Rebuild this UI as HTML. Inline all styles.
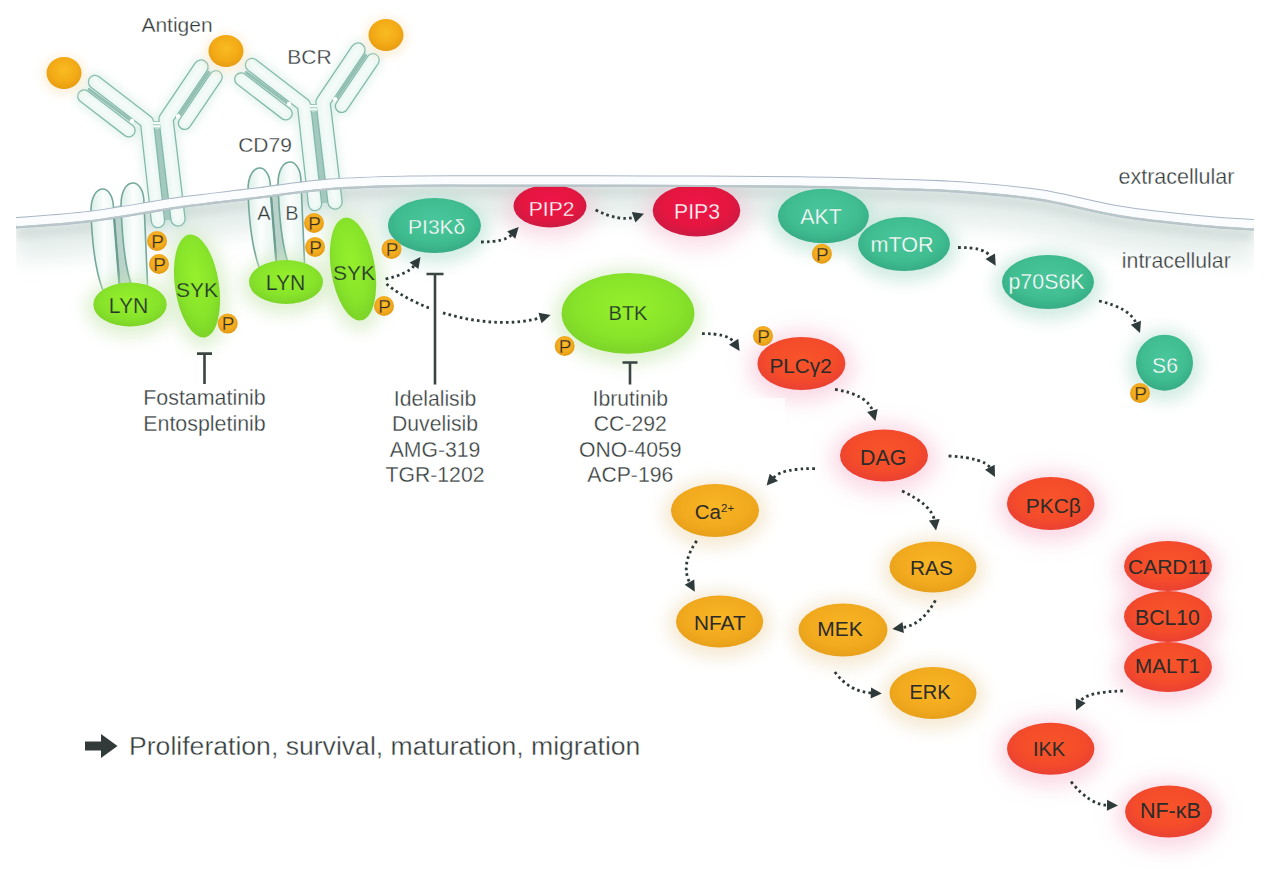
<!DOCTYPE html><html><head><meta charset="utf-8"><style>html,body{margin:0;padding:0;background:#fff;overflow:hidden}svg{display:block}text{font-family:"Liberation Sans", sans-serif}</style></head><body>
<svg width="1280" height="869" viewBox="0 0 1280 869">
<defs>
<radialGradient id="g_green" cx="50%" cy="42%" r="58%"><stop offset="0" stop-color="#96f02c"/><stop offset="0.65" stop-color="#88e42a"/><stop offset="1" stop-color="#7cd428"/></radialGradient>
<radialGradient id="g_teal" cx="50%" cy="42%" r="58%"><stop offset="0" stop-color="#4ac69c"/><stop offset="0.65" stop-color="#40be91"/><stop offset="1" stop-color="#37ac85"/></radialGradient>
<radialGradient id="g_pip" cx="50%" cy="42%" r="58%"><stop offset="0" stop-color="#f0144a"/><stop offset="0.65" stop-color="#e4163f"/><stop offset="1" stop-color="#cc1a44"/></radialGradient>
<radialGradient id="g_red" cx="50%" cy="42%" r="58%"><stop offset="0" stop-color="#f8542a"/><stop offset="0.65" stop-color="#f44c2a"/><stop offset="1" stop-color="#ea4034"/></radialGradient>
<radialGradient id="g_orange" cx="50%" cy="42%" r="58%"><stop offset="0" stop-color="#f8b624"/><stop offset="0.65" stop-color="#f2aa1e"/><stop offset="1" stop-color="#e8a01a"/></radialGradient>
<radialGradient id="g_p" cx="50%" cy="42%" r="58%"><stop offset="0" stop-color="#fac02a"/><stop offset="0.65" stop-color="#f2ab1e"/><stop offset="1" stop-color="#e29814"/></radialGradient>
<radialGradient id="g_ball" cx="50%" cy="42%" r="58%"><stop offset="0" stop-color="#f9bb22"/><stop offset="0.65" stop-color="#f3aa16"/><stop offset="1" stop-color="#e69c10"/></radialGradient>
<filter id="blur2" x="-100%" y="-100%" width="300%" height="300%"><feGaussianBlur stdDeviation="2"/></filter>
<filter id="blur4" x="-100%" y="-100%" width="300%" height="300%"><feGaussianBlur stdDeviation="4"/></filter>
<filter id="blur6" x="-100%" y="-100%" width="300%" height="300%"><feGaussianBlur stdDeviation="6"/></filter>
<filter id="blur8" x="-100%" y="-100%" width="300%" height="300%"><feGaussianBlur stdDeviation="8"/></filter>
<filter id="blur10" x="-100%" y="-100%" width="300%" height="300%"><feGaussianBlur stdDeviation="10"/></filter>
<filter id="blur12" x="-100%" y="-100%" width="300%" height="300%"><feGaussianBlur stdDeviation="12"/></filter>
<filter id="blur16" x="-100%" y="-100%" width="300%" height="300%"><feGaussianBlur stdDeviation="16"/></filter>
<clipPath id="below"><path d="M16.0,226.8 C28.3,225.8 62.7,223.9 90.0,220.5 C117.3,217.1 153.3,210.2 180.0,206.5 C206.7,202.8 225.0,201.0 250.0,198.0 C275.0,195.0 303.3,190.4 330.0,188.3 C356.7,186.2 381.7,185.8 410.0,185.2 C438.3,184.6 460.0,185.0 500.0,185.0 C540.0,185.0 600.0,184.9 650.0,185.1 C700.0,185.3 758.3,185.4 800.0,186.0 C841.7,186.6 873.3,187.7 900.0,188.5 C926.7,189.3 936.7,189.2 960.0,191.0 C983.3,192.8 1013.3,194.9 1040.0,199.0 C1066.7,203.1 1093.3,211.2 1120.0,215.5 C1146.7,219.8 1177.7,222.8 1200.0,225.0 C1222.3,227.2 1245.0,228.2 1254.0,228.8 L1254,869 L16,869 Z"/></clipPath>
<radialGradient id="capg" cx="50%" cy="50%" r="50%"><stop offset="0" stop-color="#ffffff"/><stop offset="0.7" stop-color="#f0faf6"/><stop offset="1" stop-color="#d8efe8"/></radialGradient>
<linearGradient id="capg2" x1="0" x2="1" y1="0" y2="0"><stop offset="0" stop-color="#dcefe9"/><stop offset="0.45" stop-color="#fbfefd"/><stop offset="1" stop-color="#e4f3ee"/></linearGradient>
<filter id="soft" x="-10%" y="-10%" width="120%" height="120%"><feGaussianBlur stdDeviation="0.6"/></filter>
</defs>
<g clip-path="url(#below)">
<path d="M16.0,222.8 C28.3,221.8 62.7,219.9 90.0,216.5 C117.3,213.1 153.3,206.2 180.0,202.5 C206.7,198.8 225.0,197.0 250.0,194.0 C275.0,191.0 303.3,186.4 330.0,184.3 C356.7,182.2 381.7,181.8 410.0,181.2 C438.3,180.6 460.0,181.0 500.0,181.0 C540.0,181.0 600.0,180.9 650.0,181.1 C700.0,181.3 758.3,181.4 800.0,182.0 C841.7,182.6 873.3,183.7 900.0,184.5 C926.7,185.3 936.7,185.2 960.0,187.0 C983.3,188.8 1013.3,190.9 1040.0,195.0 C1066.7,199.1 1093.3,207.2 1120.0,211.5 C1146.7,215.8 1177.7,218.8 1200.0,221.0 C1222.3,223.2 1245.0,224.2 1254.0,224.8" fill="none" stroke="#e6efed" stroke-width="36" filter="url(#blur10)" transform="translate(0,20)"/>
<path d="M16.0,222.8 C28.3,221.8 62.7,219.9 90.0,216.5 C117.3,213.1 153.3,206.2 180.0,202.5 C206.7,198.8 225.0,197.0 250.0,194.0 C275.0,191.0 303.3,186.4 330.0,184.3 C356.7,182.2 381.7,181.8 410.0,181.2 C438.3,180.6 460.0,181.0 500.0,181.0 C540.0,181.0 600.0,180.9 650.0,181.1 C700.0,181.3 758.3,181.4 800.0,182.0 C841.7,182.6 873.3,183.7 900.0,184.5 C926.7,185.3 936.7,185.2 960.0,187.0 C983.3,188.8 1013.3,190.9 1040.0,195.0 C1066.7,199.1 1093.3,207.2 1120.0,211.5 C1146.7,215.8 1177.7,218.8 1200.0,221.0 C1222.3,223.2 1245.0,224.2 1254.0,224.8" fill="none" stroke="#d3dedb" stroke-width="12" filter="url(#blur4)" transform="translate(0,10)"/>
</g>
<g transform="translate(-157.0,17.0)" filter="url(#soft)">
<g opacity="0.3" filter="url(#blur4)">
<path d="M252.0,65.0 L304.0,105.0 L315.0,204.0" fill="none" stroke="#a8d8c8" stroke-width="20" stroke-linecap="round" stroke-linejoin="round"/>
<path d="M358.0,50.0 L323.0,102.0 L335.0,202.0" fill="none" stroke="#a8d8c8" stroke-width="20" stroke-linecap="round" stroke-linejoin="round"/>
<path d="M241.1,79.3 L285.8,113.6" fill="none" stroke="#a8d8c8" stroke-width="20" stroke-linecap="round" stroke-linejoin="round"/>
<path d="M372.9,60.0 L341.7,106.1" fill="none" stroke="#a8d8c8" stroke-width="20" stroke-linecap="round" stroke-linejoin="round"/>
</g>
<path d="M314,112 L325,203" stroke="#a3c9be" stroke-width="6"/>
<path d="M252.0,65.0 L304.0,105.0 L315.0,204.0" fill="none" stroke="#82b9aa" stroke-width="14.5" stroke-linecap="round" stroke-linejoin="round"/>
<path d="M252.0,65.0 L304.0,105.0 L315.0,204.0" fill="none" stroke="#eaf7f2" stroke-width="11.9" stroke-linecap="round" stroke-linejoin="round"/>
<path d="M252.0,65.0 L304.0,105.0 L315.0,204.0" fill="none" stroke="#ffffff" stroke-width="5.4" stroke-linecap="round" stroke-linejoin="round" opacity="0.6" filter="url(#blur2)"/>
<path d="M358.0,50.0 L323.0,102.0 L335.0,202.0" fill="none" stroke="#82b9aa" stroke-width="15.5" stroke-linecap="round" stroke-linejoin="round"/>
<path d="M358.0,50.0 L323.0,102.0 L335.0,202.0" fill="none" stroke="#eaf7f2" stroke-width="12.9" stroke-linecap="round" stroke-linejoin="round"/>
<path d="M358.0,50.0 L323.0,102.0 L335.0,202.0" fill="none" stroke="#ffffff" stroke-width="5.8" stroke-linecap="round" stroke-linejoin="round" opacity="0.6" filter="url(#blur2)"/>
<rect x="310" y="104.5" width="7" height="6.5" fill="#f4fbf8"/><path d="M310,104.5 H317 M310,107.7 H317 M310,111 H317" stroke="#9cc8bb" stroke-width="1.1"/>
<path d="M241.1,79.3 L285.8,113.6" fill="none" stroke="#82b9aa" stroke-width="14.0" stroke-linecap="round" stroke-linejoin="round"/>
<path d="M241.1,79.3 L285.8,113.6" fill="none" stroke="#eaf7f2" stroke-width="11.4" stroke-linecap="round" stroke-linejoin="round"/>
<path d="M241.1,79.3 L285.8,113.6" fill="none" stroke="#ffffff" stroke-width="5.1" stroke-linecap="round" stroke-linejoin="round" opacity="0.6" filter="url(#blur2)"/>
<path d="M372.9,60.0 L341.7,106.1" fill="none" stroke="#82b9aa" stroke-width="14.0" stroke-linecap="round" stroke-linejoin="round"/>
<path d="M372.9,60.0 L341.7,106.1" fill="none" stroke="#eaf7f2" stroke-width="11.4" stroke-linecap="round" stroke-linejoin="round"/>
<path d="M372.9,60.0 L341.7,106.1" fill="none" stroke="#ffffff" stroke-width="5.1" stroke-linecap="round" stroke-linejoin="round" opacity="0.6" filter="url(#blur2)"/>
<path d="M246.2,72.4 L288,103.6" stroke="#92bfb2" stroke-width="3" stroke-linecap="round"/>
<path d="M365.6,55.2 L336.6,98.2" stroke="#92bfb2" stroke-width="3" stroke-linecap="round"/>
<circle cx="289" cy="104" r="2.2" fill="#ffffff"/><circle cx="335.2" cy="99.2" r="2.2" fill="#ffffff"/>
<g transform="translate(0,4.0)">
<path d="M269,186 L276,264 L289,264 C283,246 279,215 278,184 Z" fill="#b9d3cb"/>
<path d="M248,190 C248,161 270.5,161 270.5,188 L276.5,264 C276,274 262,275 259,267 C253,250 249,225 248,190 Z" fill="url(#capg2)" stroke="#74a89a" stroke-width="1.6"/>
<path d="M270.5,190 L276.5,264" stroke="#6a9c90" stroke-width="2.2"/>
<path d="M278,184 C278,155 301,155 301,182 L304.5,262 C304.5,270 292,272 288.5,264 C282,246 279,215 278,184 Z" fill="url(#capg2)" stroke="#74a89a" stroke-width="1.6"/>
</g>
</g>
<g transform="translate(0.0,0.0)" filter="url(#soft)">
<g opacity="0.3" filter="url(#blur4)">
<path d="M252.0,65.0 L304.0,105.0 L315.0,204.0" fill="none" stroke="#a8d8c8" stroke-width="20" stroke-linecap="round" stroke-linejoin="round"/>
<path d="M358.0,50.0 L323.0,102.0 L335.0,202.0" fill="none" stroke="#a8d8c8" stroke-width="20" stroke-linecap="round" stroke-linejoin="round"/>
<path d="M241.1,79.3 L285.8,113.6" fill="none" stroke="#a8d8c8" stroke-width="20" stroke-linecap="round" stroke-linejoin="round"/>
<path d="M372.9,60.0 L341.7,106.1" fill="none" stroke="#a8d8c8" stroke-width="20" stroke-linecap="round" stroke-linejoin="round"/>
</g>
<path d="M314,112 L325,203" stroke="#a3c9be" stroke-width="6"/>
<path d="M252.0,65.0 L304.0,105.0 L315.0,204.0" fill="none" stroke="#82b9aa" stroke-width="14.5" stroke-linecap="round" stroke-linejoin="round"/>
<path d="M252.0,65.0 L304.0,105.0 L315.0,204.0" fill="none" stroke="#eaf7f2" stroke-width="11.9" stroke-linecap="round" stroke-linejoin="round"/>
<path d="M252.0,65.0 L304.0,105.0 L315.0,204.0" fill="none" stroke="#ffffff" stroke-width="5.4" stroke-linecap="round" stroke-linejoin="round" opacity="0.6" filter="url(#blur2)"/>
<path d="M358.0,50.0 L323.0,102.0 L335.0,202.0" fill="none" stroke="#82b9aa" stroke-width="15.5" stroke-linecap="round" stroke-linejoin="round"/>
<path d="M358.0,50.0 L323.0,102.0 L335.0,202.0" fill="none" stroke="#eaf7f2" stroke-width="12.9" stroke-linecap="round" stroke-linejoin="round"/>
<path d="M358.0,50.0 L323.0,102.0 L335.0,202.0" fill="none" stroke="#ffffff" stroke-width="5.8" stroke-linecap="round" stroke-linejoin="round" opacity="0.6" filter="url(#blur2)"/>
<rect x="310" y="104.5" width="7" height="6.5" fill="#f4fbf8"/><path d="M310,104.5 H317 M310,107.7 H317 M310,111 H317" stroke="#9cc8bb" stroke-width="1.1"/>
<path d="M241.1,79.3 L285.8,113.6" fill="none" stroke="#82b9aa" stroke-width="14.0" stroke-linecap="round" stroke-linejoin="round"/>
<path d="M241.1,79.3 L285.8,113.6" fill="none" stroke="#eaf7f2" stroke-width="11.4" stroke-linecap="round" stroke-linejoin="round"/>
<path d="M241.1,79.3 L285.8,113.6" fill="none" stroke="#ffffff" stroke-width="5.1" stroke-linecap="round" stroke-linejoin="round" opacity="0.6" filter="url(#blur2)"/>
<path d="M372.9,60.0 L341.7,106.1" fill="none" stroke="#82b9aa" stroke-width="14.0" stroke-linecap="round" stroke-linejoin="round"/>
<path d="M372.9,60.0 L341.7,106.1" fill="none" stroke="#eaf7f2" stroke-width="11.4" stroke-linecap="round" stroke-linejoin="round"/>
<path d="M372.9,60.0 L341.7,106.1" fill="none" stroke="#ffffff" stroke-width="5.1" stroke-linecap="round" stroke-linejoin="round" opacity="0.6" filter="url(#blur2)"/>
<path d="M246.2,72.4 L288,103.6" stroke="#92bfb2" stroke-width="3" stroke-linecap="round"/>
<path d="M365.6,55.2 L336.6,98.2" stroke="#92bfb2" stroke-width="3" stroke-linecap="round"/>
<circle cx="289" cy="104" r="2.2" fill="#ffffff"/><circle cx="335.2" cy="99.2" r="2.2" fill="#ffffff"/>
<g transform="translate(0,0.0)">
<path d="M269,186 L276,264 L289,264 C283,246 279,215 278,184 Z" fill="#b9d3cb"/>
<path d="M248,190 C248,161 270.5,161 270.5,188 L276.5,264 C276,274 262,275 259,267 C253,250 249,225 248,190 Z" fill="url(#capg2)" stroke="#74a89a" stroke-width="1.6"/>
<path d="M270.5,190 L276.5,264" stroke="#6a9c90" stroke-width="2.2"/>
<path d="M278,184 C278,155 301,155 301,182 L304.5,262 C304.5,270 292,272 288.5,264 C282,246 279,215 278,184 Z" fill="url(#capg2)" stroke="#74a89a" stroke-width="1.6"/>
</g>
</g>
<g clip-path="url(#below)">
<ellipse cx="130.0" cy="307.5" rx="44.7" ry="30.0" fill="#cce8b8" opacity="0.60" filter="url(#blur8)" transform="rotate(0.0 130.0 304.5)"/>
<ellipse cx="197.0" cy="289.0" rx="30.0" ry="60.0" fill="#cce8b8" opacity="0.60" filter="url(#blur8)" transform="rotate(-8.5 197.0 286.0)"/>
<ellipse cx="286.0" cy="285.0" rx="45.0" ry="30.0" fill="#cce8b8" opacity="0.60" filter="url(#blur8)" transform="rotate(0.0 286.0 282.0)"/>
<ellipse cx="353.0" cy="272.0" rx="30.0" ry="60.0" fill="#cce8b8" opacity="0.60" filter="url(#blur8)" transform="rotate(-9.0 353.0 269.0)"/>
<ellipse cx="628.0" cy="316.4" rx="74.4" ry="48.4" fill="#cce8b8" opacity="0.60" filter="url(#blur8)" transform="rotate(0.0 628.0 313.4)"/>
<ellipse cx="434.5" cy="228.5" rx="54.5" ry="35.5" fill="#c0e4d8" opacity="0.70" filter="url(#blur8)" transform="rotate(0.0 434.5 225.5)"/>
<ellipse cx="550.0" cy="209.0" rx="45.5" ry="30.5" fill="#f4b0c8" opacity="0.40" filter="url(#blur10)" transform="rotate(0.0 550.0 206.0)"/>
<ellipse cx="696.5" cy="213.5" rx="52.8" ry="35.0" fill="#f4b0c8" opacity="0.40" filter="url(#blur10)" transform="rotate(0.0 696.5 210.5)"/>
<ellipse cx="823.4" cy="219.0" rx="53.5" ry="35.2" fill="#c0e4d8" opacity="0.70" filter="url(#blur8)" transform="rotate(0.0 823.4 216.0)"/>
<ellipse cx="904.0" cy="247.0" rx="54.0" ry="35.0" fill="#c0e4d8" opacity="0.70" filter="url(#blur8)" transform="rotate(0.0 904.0 244.0)"/>
<ellipse cx="1048.0" cy="285.0" rx="54.0" ry="35.0" fill="#c0e4d8" opacity="0.70" filter="url(#blur8)" transform="rotate(0.0 1048.0 282.0)"/>
<ellipse cx="1164.5" cy="365.7" rx="36.5" ry="36.0" fill="#c0e4d8" opacity="0.70" filter="url(#blur8)" transform="rotate(0.0 1164.5 362.7)"/>
<ellipse cx="801.4" cy="366.5" rx="53.0" ry="35.5" fill="#f6b4cc" opacity="0.50" filter="url(#blur10)" transform="rotate(0.0 801.4 363.5)"/>
<ellipse cx="884.0" cy="458.4" rx="53.0" ry="35.0" fill="#f6b4cc" opacity="0.50" filter="url(#blur10)" transform="rotate(0.0 884.0 455.4)"/>
<ellipse cx="715.0" cy="513.5" rx="52.0" ry="34.5" fill="#f2e2c4" opacity="0.70" filter="url(#blur8)" transform="rotate(0.0 715.0 510.5)"/>
<ellipse cx="719.6" cy="624.5" rx="51.6" ry="34.0" fill="#f2e2c4" opacity="0.70" filter="url(#blur8)" transform="rotate(0.0 719.6 621.5)"/>
<ellipse cx="933.0" cy="570.0" rx="51.5" ry="33.5" fill="#f2e2c4" opacity="0.70" filter="url(#blur8)" transform="rotate(0.0 933.0 567.0)"/>
<ellipse cx="843.0" cy="633.0" rx="52.5" ry="34.5" fill="#f2e2c4" opacity="0.70" filter="url(#blur8)" transform="rotate(0.0 843.0 630.0)"/>
<ellipse cx="933.0" cy="696.0" rx="51.5" ry="34.0" fill="#f2e2c4" opacity="0.70" filter="url(#blur8)" transform="rotate(0.0 933.0 693.0)"/>
<ellipse cx="1050.7" cy="506.5" rx="52.7" ry="35.5" fill="#f6b4cc" opacity="0.50" filter="url(#blur10)" transform="rotate(0.0 1050.7 503.5)"/>
<ellipse cx="1168.0" cy="569.0" rx="53.0" ry="34.0" fill="#f6b4cc" opacity="0.50" filter="url(#blur10)" transform="rotate(0.0 1168.0 566.0)"/>
<ellipse cx="1168.0" cy="619.5" rx="53.0" ry="34.5" fill="#f6b4cc" opacity="0.50" filter="url(#blur10)" transform="rotate(0.0 1168.0 616.5)"/>
<ellipse cx="1168.0" cy="670.0" rx="53.0" ry="34.0" fill="#f6b4cc" opacity="0.50" filter="url(#blur10)" transform="rotate(0.0 1168.0 667.0)"/>
<ellipse cx="1050.7" cy="751.7" rx="52.7" ry="35.0" fill="#f6b4cc" opacity="0.50" filter="url(#blur10)" transform="rotate(0.0 1050.7 748.7)"/>
<ellipse cx="1168.6" cy="814.6" rx="52.5" ry="35.0" fill="#f6b4cc" opacity="0.50" filter="url(#blur10)" transform="rotate(0.0 1168.6 811.6)"/>
</g>
<rect x="548" y="398" width="237" height="62" fill="#ffffff" opacity="0.75"/>
<ellipse cx="130.0" cy="304.5" rx="36.7" ry="22.0" fill="url(#g_green)" transform="rotate(0.0 130.0 304.5)"/>
<ellipse cx="197.0" cy="286.0" rx="22.0" ry="52.0" fill="url(#g_green)" transform="rotate(-8.5 197.0 286.0)"/>
<ellipse cx="286.0" cy="282.0" rx="37.0" ry="22.0" fill="url(#g_green)" transform="rotate(0.0 286.0 282.0)"/>
<ellipse cx="353.0" cy="269.0" rx="22.0" ry="52.0" fill="url(#g_green)" transform="rotate(-9.0 353.0 269.0)"/>
<ellipse cx="628.0" cy="313.4" rx="66.4" ry="40.4" fill="url(#g_green)" transform="rotate(0.0 628.0 313.4)"/>
<ellipse cx="434.5" cy="225.5" rx="46.5" ry="27.5" fill="url(#g_teal)" transform="rotate(0.0 434.5 225.5)"/>
<g clip-path="url(#below)">
<ellipse cx="550.0" cy="206.0" rx="36.5" ry="21.5" fill="url(#g_pip)" transform="rotate(0.0 550.0 206.0)"/>
</g>
<g clip-path="url(#below)">
<ellipse cx="696.5" cy="210.5" rx="43.8" ry="26.0" fill="url(#g_pip)" transform="rotate(0.0 696.5 210.5)"/>
</g>
<ellipse cx="823.4" cy="216.0" rx="45.5" ry="27.2" fill="url(#g_teal)" transform="rotate(0.0 823.4 216.0)"/>
<ellipse cx="904.0" cy="244.0" rx="46.0" ry="27.0" fill="url(#g_teal)" transform="rotate(0.0 904.0 244.0)"/>
<ellipse cx="1048.0" cy="282.0" rx="46.0" ry="27.0" fill="url(#g_teal)" transform="rotate(0.0 1048.0 282.0)"/>
<ellipse cx="1164.5" cy="362.7" rx="28.5" ry="28.0" fill="url(#g_teal)" transform="rotate(0.0 1164.5 362.7)"/>
<ellipse cx="801.4" cy="363.5" rx="44.0" ry="26.5" fill="url(#g_red)" transform="rotate(0.0 801.4 363.5)"/>
<ellipse cx="884.0" cy="455.4" rx="44.0" ry="26.0" fill="url(#g_red)" transform="rotate(0.0 884.0 455.4)"/>
<ellipse cx="715.0" cy="510.5" rx="44.0" ry="26.5" fill="url(#g_orange)" transform="rotate(0.0 715.0 510.5)"/>
<ellipse cx="719.6" cy="621.5" rx="43.6" ry="26.0" fill="url(#g_orange)" transform="rotate(0.0 719.6 621.5)"/>
<ellipse cx="933.0" cy="567.0" rx="43.5" ry="25.5" fill="url(#g_orange)" transform="rotate(0.0 933.0 567.0)"/>
<ellipse cx="843.0" cy="630.0" rx="44.5" ry="26.5" fill="url(#g_orange)" transform="rotate(0.0 843.0 630.0)"/>
<ellipse cx="933.0" cy="693.0" rx="43.5" ry="26.0" fill="url(#g_orange)" transform="rotate(0.0 933.0 693.0)"/>
<ellipse cx="1050.7" cy="503.5" rx="43.7" ry="26.5" fill="url(#g_red)" transform="rotate(0.0 1050.7 503.5)"/>
<ellipse cx="1168.0" cy="566.0" rx="44.0" ry="25.0" fill="url(#g_red)" transform="rotate(0.0 1168.0 566.0)"/>
<ellipse cx="1168.0" cy="616.5" rx="44.0" ry="25.5" fill="url(#g_red)" transform="rotate(0.0 1168.0 616.5)"/>
<ellipse cx="1168.0" cy="667.0" rx="44.0" ry="25.0" fill="url(#g_red)" transform="rotate(0.0 1168.0 667.0)"/>
<ellipse cx="1050.7" cy="748.7" rx="43.7" ry="26.0" fill="url(#g_red)" transform="rotate(0.0 1050.7 748.7)"/>
<ellipse cx="1168.6" cy="811.6" rx="43.5" ry="26.0" fill="url(#g_red)" transform="rotate(0.0 1168.6 811.6)"/>
<path d="M16.0,222.8 C28.3,221.8 62.7,219.9 90.0,216.5 C117.3,213.1 153.3,206.2 180.0,202.5 C206.7,198.8 225.0,197.0 250.0,194.0 C275.0,191.0 303.3,186.4 330.0,184.3 C356.7,182.2 381.7,181.8 410.0,181.2 C438.3,180.6 460.0,181.0 500.0,181.0 C540.0,181.0 600.0,180.9 650.0,181.1 C700.0,181.3 758.3,181.4 800.0,182.0 C841.7,182.6 873.3,183.7 900.0,184.5 C926.7,185.3 936.7,185.2 960.0,187.0 C983.3,188.8 1013.3,190.9 1040.0,195.0 C1066.7,199.1 1093.3,207.2 1120.0,211.5 C1146.7,215.8 1177.7,218.8 1200.0,221.0 C1222.3,223.2 1245.0,224.2 1254.0,224.8" fill="none" stroke="#a9b6c6" stroke-width="11.4"/>
<path d="M16.0,222.3 C28.3,221.2 62.7,219.4 90.0,216.0 C117.3,212.6 153.3,205.8 180.0,202.0 C206.7,198.2 225.0,196.5 250.0,193.5 C275.0,190.5 303.3,185.9 330.0,183.8 C356.7,181.7 381.7,181.2 410.0,180.7 C438.3,180.1 460.0,180.5 500.0,180.5 C540.0,180.5 600.0,180.4 650.0,180.6 C700.0,180.8 758.3,180.9 800.0,181.5 C841.7,182.1 873.3,183.2 900.0,184.0 C926.7,184.8 936.7,184.8 960.0,186.5 C983.3,188.2 1013.3,190.4 1040.0,194.5 C1066.7,198.6 1093.3,206.7 1120.0,211.0 C1146.7,215.3 1177.7,218.3 1200.0,220.5 C1222.3,222.7 1245.0,223.7 1254.0,224.3" fill="none" stroke="#fbfcfd" stroke-width="8.4"/>
<path d="M16.0,227.4 C28.3,226.3 62.7,224.5 90.0,221.1 C117.3,217.7 153.3,210.8 180.0,207.1 C206.7,203.3 225.0,201.6 250.0,198.6 C275.0,195.6 303.3,191.0 330.0,188.9 C356.7,186.8 381.7,186.3 410.0,185.8 C438.3,185.2 460.0,185.6 500.0,185.6 C540.0,185.6 600.0,185.5 650.0,185.7 C700.0,185.9 758.3,186.0 800.0,186.6 C841.7,187.2 873.3,188.3 900.0,189.1 C926.7,189.9 936.7,189.8 960.0,191.6 C983.3,193.3 1013.3,195.5 1040.0,199.6 C1066.7,203.7 1093.3,211.8 1120.0,216.1 C1146.7,220.4 1177.7,223.4 1200.0,225.6 C1222.3,227.8 1245.0,228.8 1254.0,229.4" fill="none" stroke="#b9c7ca" stroke-width="2"/>
<rect x="0" y="150" width="16" height="100" fill="#fff"/>
<rect x="1254" y="150" width="26" height="100" fill="#fff"/>
<ellipse cx="64" cy="75" rx="22" ry="20" fill="#fce8c8" opacity="0.6" filter="url(#blur4)"/>
<ellipse cx="64" cy="73" rx="17.5" ry="16" fill="url(#g_ball)"/>
<ellipse cx="226" cy="53" rx="22" ry="20" fill="#fce8c8" opacity="0.6" filter="url(#blur4)"/>
<ellipse cx="226" cy="51" rx="17.5" ry="16" fill="url(#g_ball)"/>
<ellipse cx="386" cy="37" rx="22" ry="20" fill="#fce8c8" opacity="0.6" filter="url(#blur4)"/>
<ellipse cx="386" cy="35" rx="17.5" ry="16" fill="url(#g_ball)"/>
<circle cx="157.0" cy="241.0" r="10" fill="url(#g_p)"/>
<text x="157.5" y="247.8" font-size="19.0" fill="#2a2a22" text-anchor="middle"  stroke="#f0a41c" stroke-width="0.40">P</text>
<circle cx="159.0" cy="264.0" r="10" fill="url(#g_p)"/>
<text x="159.5" y="270.8" font-size="19.0" fill="#2a2a22" text-anchor="middle"  stroke="#f0a41c" stroke-width="0.40">P</text>
<circle cx="227.7" cy="323.6" r="10" fill="url(#g_p)"/>
<text x="228.2" y="330.4" font-size="19.0" fill="#2a2a22" text-anchor="middle"  stroke="#f0a41c" stroke-width="0.40">P</text>
<circle cx="314.0" cy="223.0" r="10" fill="url(#g_p)"/>
<text x="314.5" y="229.8" font-size="19.0" fill="#2a2a22" text-anchor="middle"  stroke="#f0a41c" stroke-width="0.40">P</text>
<circle cx="315.0" cy="247.0" r="10" fill="url(#g_p)"/>
<text x="315.5" y="253.8" font-size="19.0" fill="#2a2a22" text-anchor="middle"  stroke="#f0a41c" stroke-width="0.40">P</text>
<circle cx="391.5" cy="249.0" r="10" fill="url(#g_p)"/>
<text x="392.0" y="255.8" font-size="19.0" fill="#2a2a22" text-anchor="middle"  stroke="#f0a41c" stroke-width="0.40">P</text>
<circle cx="384.0" cy="306.0" r="10" fill="url(#g_p)"/>
<text x="384.5" y="312.8" font-size="19.0" fill="#2a2a22" text-anchor="middle"  stroke="#f0a41c" stroke-width="0.40">P</text>
<circle cx="564.7" cy="346.0" r="10" fill="url(#g_p)"/>
<text x="565.2" y="352.8" font-size="19.0" fill="#2a2a22" text-anchor="middle"  stroke="#f0a41c" stroke-width="0.40">P</text>
<circle cx="821.9" cy="253.7" r="10" fill="url(#g_p)"/>
<text x="822.4" y="260.5" font-size="19.0" fill="#2a2a22" text-anchor="middle"  stroke="#f0a41c" stroke-width="0.40">P</text>
<circle cx="1140.0" cy="393.0" r="10" fill="url(#g_p)"/>
<text x="1140.5" y="399.8" font-size="19.0" fill="#2a2a22" text-anchor="middle"  stroke="#f0a41c" stroke-width="0.40">P</text>
<circle cx="763.0" cy="336.0" r="10" fill="url(#g_p)"/>
<text x="763.5" y="342.8" font-size="19.0" fill="#2a2a22" text-anchor="middle"  stroke="#f0a41c" stroke-width="0.40">P</text>
<text x="177.0" y="32.0" font-size="21.0" fill="#343c3b" text-anchor="middle"  stroke="#ffffff" stroke-width="0.30">Antigen</text>
<text x="309.5" y="64.3" font-size="21.0" fill="#343c3b" text-anchor="middle"  stroke="#ffffff" stroke-width="0.30">BCR</text>
<text x="265.0" y="151.6" font-size="21.0" fill="#343c3b" text-anchor="middle"  stroke="#ffffff" stroke-width="0.30">CD79</text>
<text x="264.0" y="220.0" font-size="20.0" fill="#343c3b" text-anchor="middle"  stroke="#ffffff" stroke-width="0.30">A</text>
<text x="292.0" y="220.0" font-size="20.0" fill="#343c3b" text-anchor="middle"  stroke="#ffffff" stroke-width="0.30">B</text>
<text x="1176.5" y="183.5" font-size="21.5" fill="#343c3b" text-anchor="middle"  stroke="#ffffff" stroke-width="0.30">extracellular</text>
<text x="1176.3" y="268.0" font-size="21.3" fill="#343c3b" text-anchor="middle"  stroke="#ffffff" stroke-width="0.30">intracellular</text>
<text x="128.5" y="312.8" font-size="21.2" fill="#26322a" text-anchor="middle"  stroke="#88e42a" stroke-width="0.25">LYN</text>
<text x="197.0" y="297.0" font-size="21.0" fill="#26322a" text-anchor="middle"  stroke="#88e42a" stroke-width="0.25">SYK</text>
<text x="285.5" y="289.6" font-size="21.2" fill="#26322a" text-anchor="middle"  stroke="#88e42a" stroke-width="0.25">LYN</text>
<text x="354.0" y="279.7" font-size="21.0" fill="#26322a" text-anchor="middle"  stroke="#88e42a" stroke-width="0.25">SYK</text>
<text x="436.7" y="234.4" font-size="21.0" fill="#ffffff" text-anchor="middle"  stroke="#3fb68c" stroke-width="0.30">PI3K&#948;</text>
<text x="551.6" y="216.3" font-size="21.0" fill="#ffffff" text-anchor="middle"  stroke="#dc1c46" stroke-width="0.30">PIP2</text>
<text x="697.0" y="218.5" font-size="21.2" fill="#ffffff" text-anchor="middle"  stroke="#dc1c46" stroke-width="0.30">PIP3</text>
<text x="821.0" y="223.5" font-size="21.4" fill="#ffffff" text-anchor="middle"  stroke="#3fb68c" stroke-width="0.30">AKT</text>
<text x="902.0" y="251.6" font-size="21.6" fill="#ffffff" text-anchor="middle"  stroke="#3fb68c" stroke-width="0.30">mTOR</text>
<text x="1046.5" y="289.0" font-size="21.4" fill="#ffffff" text-anchor="middle"  stroke="#3fb68c" stroke-width="0.30">p70S6K</text>
<text x="1165.0" y="372.6" font-size="21.2" fill="#ffffff" text-anchor="middle"  stroke="#3fb68c" stroke-width="0.30">S6</text>
<text x="628.0" y="320.0" font-size="20.0" fill="#26322a" text-anchor="middle"  stroke="#88e42a" stroke-width="0.25">BTK</text>
<text x="800.6" y="372.5" font-size="20.8" fill="#2b2b29" text-anchor="middle" >PLC&#947;2</text>
<text x="883.2" y="464.5" font-size="21.4" fill="#2b2b29" text-anchor="middle" >DAG</text>
<text x="694.8" y="519.3" font-size="20.5" fill="#2b2b29">Ca<tspan font-size="11.5" dy="-7.5">2+</tspan></text>
<text x="719.8" y="630.0" font-size="20.8" fill="#2b2b29" text-anchor="middle" >NFAT</text>
<text x="931.5" y="575.3" font-size="20.9" fill="#2b2b29" text-anchor="middle" >RAS</text>
<text x="840.0" y="635.5" font-size="21.0" fill="#2b2b29" text-anchor="middle" >MEK</text>
<text x="930.0" y="699.3" font-size="20.0" fill="#2b2b29" text-anchor="middle" >ERK</text>
<text x="1053.3" y="513.0" font-size="21.0" fill="#2b2b29" text-anchor="middle" >PKC&#946;</text>
<text x="1168.7" y="574.3" font-size="21.0" fill="#2b2b29" text-anchor="middle" >CARD11</text>
<text x="1167.5" y="625.2" font-size="21.2" fill="#2b2b29" text-anchor="middle" >BCL10</text>
<text x="1167.5" y="672.5" font-size="20.6" fill="#2b2b29" text-anchor="middle" >MALT1</text>
<text x="1049.0" y="756.0" font-size="20.0" fill="#2b2b29" text-anchor="middle" >IKK</text>
<text x="1170.4" y="817.8" font-size="21.5" fill="#2b2b29" text-anchor="middle" >NF-&#954;B</text>
<text x="204.5" y="405.4" font-size="21.4" fill="#343c3b" text-anchor="middle"  stroke="#ffffff" stroke-width="0.30">Fostamatinib</text>
<text x="204.5" y="431.0" font-size="21.4" fill="#343c3b" text-anchor="middle"  stroke="#ffffff" stroke-width="0.30">Entospletinib</text>
<text x="435.0" y="406.0" font-size="21.2" fill="#343c3b" text-anchor="middle"  stroke="#ffffff" stroke-width="0.30">Idelalisib</text>
<text x="435.0" y="431.4" font-size="21.2" fill="#343c3b" text-anchor="middle"  stroke="#ffffff" stroke-width="0.30">Duvelisib</text>
<text x="435.0" y="456.8" font-size="21.2" fill="#343c3b" text-anchor="middle"  stroke="#ffffff" stroke-width="0.30">AMG-319</text>
<text x="435.0" y="482.2" font-size="21.2" fill="#343c3b" text-anchor="middle"  stroke="#ffffff" stroke-width="0.30">TGR-1202</text>
<text x="630.3" y="406.0" font-size="21.2" fill="#343c3b" text-anchor="middle"  stroke="#ffffff" stroke-width="0.30">Ibrutinib</text>
<text x="630.3" y="431.4" font-size="21.2" fill="#343c3b" text-anchor="middle"  stroke="#ffffff" stroke-width="0.30">CC-292</text>
<text x="630.3" y="456.8" font-size="21.2" fill="#343c3b" text-anchor="middle"  stroke="#ffffff" stroke-width="0.30">ONO-4059</text>
<text x="630.3" y="482.2" font-size="21.2" fill="#343c3b" text-anchor="middle"  stroke="#ffffff" stroke-width="0.30">ACP-196</text>
<path d="M481.0,242.0 Q505.0,242.0 512.0,234.4" fill="none" stroke="#2f3b3a" stroke-width="2.8" stroke-dasharray="2.6 3.2" />
<path d="M518.7,227.0 L515.3,238.8 L507.2,231.4 Z" fill="#2f3b3a"/>
<path d="M595.6,210.0 Q620.0,222.0 634.5,217.0" fill="none" stroke="#2f3b3a" stroke-width="2.8" stroke-dasharray="2.6 3.2" />
<path d="M644.0,213.7 L635.4,222.5 L631.8,212.1 Z" fill="#2f3b3a"/>
<path d="M385.6,279.0 Q408.0,274.0 414.6,265.1" fill="none" stroke="#2f3b3a" stroke-width="2.8" stroke-dasharray="2.6 3.2" />
<path d="M420.5,257.0 L418.4,269.1 L409.6,262.6 Z" fill="#2f3b3a"/>
<path d="M386.5,284.0 C420.0,312.0 490.0,332.0 541.0,317.7" fill="none" stroke="#2f3b3a" stroke-width="2.8" stroke-dasharray="2.6 3.2" />
<path d="M550.6,315.0 L541.5,323.3 L538.5,312.7 Z" fill="#2f3b3a"/>
<path d="M702.0,333.7 Q728.0,333.0 734.2,342.6" fill="none" stroke="#2f3b3a" stroke-width="2.8" stroke-dasharray="2.6 3.2" />
<path d="M739.6,351.0 L729.0,344.7 L738.3,338.8 Z" fill="#2f3b3a"/>
<path d="M958.0,247.5 Q985.0,247.0 990.8,257.1" fill="none" stroke="#2f3b3a" stroke-width="2.8" stroke-dasharray="2.6 3.2" />
<path d="M995.7,265.8 L985.5,259.0 L995.0,253.5 Z" fill="#2f3b3a"/>
<path d="M1099.0,301.0 Q1130.0,308.0 1136.3,323.7" fill="none" stroke="#2f3b3a" stroke-width="2.8" stroke-dasharray="2.6 3.2" />
<path d="M1140.0,333.0 L1130.8,324.8 L1141.0,320.7 Z" fill="#2f3b3a"/>
<path d="M835.0,389.4 Q868.0,395.0 872.7,411.4" fill="none" stroke="#2f3b3a" stroke-width="2.8" stroke-dasharray="2.6 3.2" />
<path d="M875.4,421.0 L867.1,411.9 L877.7,408.9 Z" fill="#2f3b3a"/>
<path d="M948.6,456.0 Q985.0,458.0 990.3,468.2" fill="none" stroke="#2f3b3a" stroke-width="2.8" stroke-dasharray="2.6 3.2" />
<path d="M995.0,477.0 L985.0,469.8 L994.7,464.7 Z" fill="#2f3b3a"/>
<path d="M815.0,468.7 Q782.0,468.0 773.2,478.1" fill="none" stroke="#2f3b3a" stroke-width="2.8" stroke-dasharray="2.6 3.2" />
<path d="M766.6,485.6 L769.7,473.7 L778.0,480.9 Z" fill="#2f3b3a"/>
<path d="M902.0,491.0 Q932.0,505.0 934.5,520.7" fill="none" stroke="#2f3b3a" stroke-width="2.8" stroke-dasharray="2.6 3.2" />
<path d="M936.0,530.6 L928.9,520.6 L939.7,518.9 Z" fill="#2f3b3a"/>
<path d="M696.7,540.8 Q680.0,565.0 690.0,583.0" fill="none" stroke="#2f3b3a" stroke-width="2.8" stroke-dasharray="2.6 3.2" />
<path d="M694.8,591.7 L684.7,584.7 L694.3,579.4 Z" fill="#2f3b3a"/>
<path d="M935.4,600.3 Q922.0,625.0 902.2,627.6" fill="none" stroke="#2f3b3a" stroke-width="2.8" stroke-dasharray="2.6 3.2" />
<path d="M892.3,628.9 L902.5,622.0 L903.9,632.9 Z" fill="#2f3b3a"/>
<path d="M834.8,672.0 Q850.0,692.0 871.8,693.0" fill="none" stroke="#2f3b3a" stroke-width="2.8" stroke-dasharray="2.6 3.2" />
<path d="M881.8,693.4 L870.6,698.4 L871.1,687.4 Z" fill="#2f3b3a"/>
<path d="M1123.0,690.9 Q1085.0,692.0 1080.4,701.6" fill="none" stroke="#2f3b3a" stroke-width="2.8" stroke-dasharray="2.6 3.2" />
<path d="M1076.0,710.6 L1075.8,698.3 L1085.7,703.1 Z" fill="#2f3b3a"/>
<path d="M1071.0,781.7 Q1090.0,805.0 1108.0,805.3" fill="none" stroke="#2f3b3a" stroke-width="2.8" stroke-dasharray="2.6 3.2" />
<path d="M1118.0,805.4 L1106.9,810.7 L1107.1,799.7 Z" fill="#2f3b3a"/>
<path d="M197.0,353.6 H212.0 M204.5,353.6 V384.0" stroke="#3a4442" stroke-width="2.6" fill="none"/>
<path d="M435,302 V322" stroke="#ffffff" stroke-width="11" fill="none"/>
<path d="M426.5,274.0 H443.5 M435.0,274.0 V384.4" stroke="#3a4442" stroke-width="2.6" fill="none"/>
<path d="M622.5,362.5 H637.5 M630.0,362.5 V384.4" stroke="#3a4442" stroke-width="2.6" fill="none"/>
<path d="M85,741.5 H101 V734 L117.5,746 L101,758 V750.5 H85 Z" fill="#323a3a"/>
<text x="129" y="755" font-size="26.6" fill="#343c3b" stroke="#fff" stroke-width="0.35">Proliferation, survival, maturation, migration</text>
</svg></body></html>
